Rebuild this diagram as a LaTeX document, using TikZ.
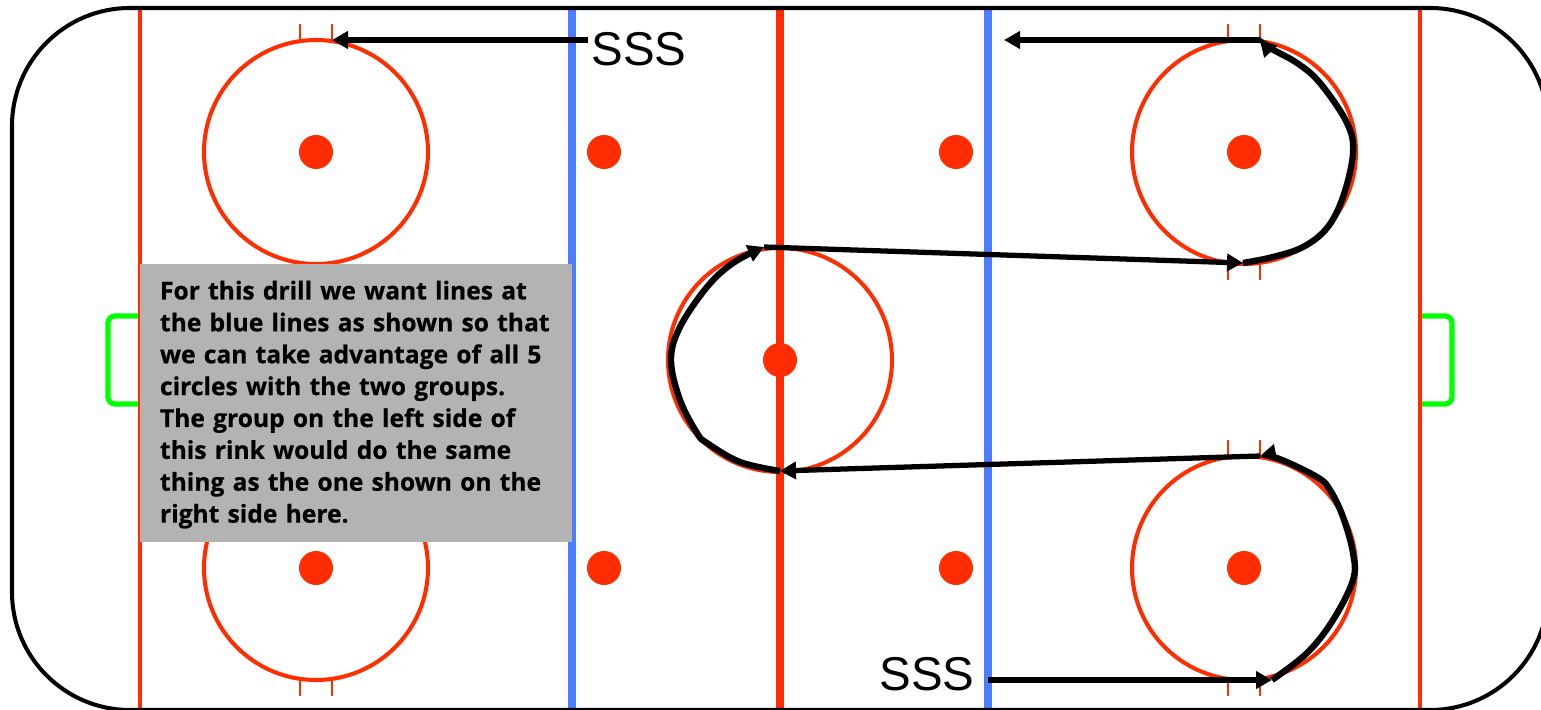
\documentclass[tikz,border=0pt]{standalone}
\usepackage{fontspec}
\setmainfont{Liberation Sans}
\newfontfamily\notefont[BoldFeatures={FakeBold=0.6}]{Open Sans}
\definecolor{rinkred}{RGB}{255,45,0}
\definecolor{rinkblue}{RGB}{74,125,255}
\definecolor{rinkgreen}{RGB}{0,255,0}
\definecolor{notegray}{RGB}{179,179,179}
\usetikzlibrary{arrows.meta,positioning}

\begin{document}
\begin{tikzpicture}[
  x=0.2mm,y=-0.2mm,
  rinkcircle/.style={circle,draw=rinkred,line width=2.3pt,minimum size=4.48cm,inner sep=0pt},
  rinkdot/.style={circle,fill=rinkred,minimum size=0.68cm,inner sep=0pt},
  thinline/.style={rinkred,line width=2.3pt},
  thickline/.style={line width=4.6pt},
  tickline/.style={rinkred,line width=1.2pt},
  goalline/.style={rinkgreen,line width=3pt,rounded corners=4pt},
  drillarr/.style={-{Triangle[length=3.2mm,width=3.4mm]},line width=3pt,black},
  curvearr/.style={drillarr,line width=3.6pt},
  sssnode/.style={font=\fontsize{27pt}{30pt}\selectfont,inner sep=0pt}
]
  \useasboundingbox (0,0) rectangle (1541,710);
  \clip (0,0) rectangle (1541,710);
  \fill[white] (0,0) rectangle (1541,710);
  % Goals
  \draw[goalline] (140,316) -- (108,316) -- (108,404) -- (140,404);
  \draw[goalline] (1420,316) -- (1452,316) -- (1452,404) -- (1420,404);
  % Lines across the rink
  \draw[thinline] (140,8) -- (140,710);
  \draw[thinline] (1420,8) -- (1420,710);
  \draw[thickline,rinkblue] (572,8) -- (572,710);
  \draw[thickline,rinkblue] (988,8) -- (988,710);
  \draw[thickline,rinkred] (780,8) -- (780,710);
  % Boards
  \draw[black,line width=2.3pt,rounded corners=23.6mm] (12,8) rectangle (1548,710);
  % Hash marks
  \foreach \hx in {300,332,1228,1260} {
    \draw[tickline] (\hx,24) -- (\hx,40);
    \draw[tickline] (\hx,264) -- (\hx,280);
    \draw[tickline] (\hx,440) -- (\hx,456);
    \draw[tickline] (\hx,680) -- (\hx,696);
  }
  % Circles
  \node[rinkcircle] (tlcircle) at (316,152) {};
  \node[rinkcircle] (blcircle) at (316,568) {};
  \node[rinkcircle] (trcircle) at (1244,152) {};
  \node[rinkcircle] (brcircle) at (1244,568) {};
  \node[rinkcircle] (midcircle) at (780,360) {};
  % Spots
  \node[rinkdot] (tlspot) at (316,152) {};
  \node[rinkdot] (blspot) at (316,568) {};
  \node[rinkdot] (trspot) at (1244,152) {};
  \node[rinkdot] (brspot) at (1244,568) {};
  \node[rinkdot] (midspot) at (780,360) {};
  \node[rinkdot] (tlzone) at (604,152) {};
  \node[rinkdot] (blzone) at (604,568) {};
  \node[rinkdot] (trzone) at (956,152) {};
  \node[rinkdot] (brzone) at (956,568) {};
  % Note
  \node[fill=notegray,minimum width=8.64cm,minimum height=5.56cm,text width=7.84cm,inner xsep=4mm,
    inner ysep=0pt,align=left,font=\notefont\bfseries\fontsize{14pt}{18.14pt}\selectfont] (note) at (356,403) {
    \rule{0pt}{12.5pt}For this drill we want lines at\\
    the blue lines as shown so that\\
    we can take advantage of all 5\\
    circles with the two groups.\\
    The group on the left side of\\
    this rink would do the same\\
    thing as the one shown on the\\
    right side here.};
  % Player labels
  \node[sssnode,anchor=base west] (ssstop) at (591,66) {SSS};
  \node[sssnode,anchor=base west] (sssbot) at (879,690) {SSS};
  % Drill route
  \coordinate (tlgoal) at (332,40);
  \coordinate (toplead) at (588,40);
  \coordinate (topend) at (1004,40);
  \coordinate (trtop) at (1260,40);
  \coordinate (trbot) at (1243,263);
  \coordinate (midtop) at (764,247);
  \coordinate (midbot) at (780,471);
  \coordinate (brtop) at (1260,456);
  \coordinate (brbot) at (1272,680);
  \coordinate (botlead) at (988,680);
  \draw[drillarr] (toplead) -- (tlgoal);
  \draw[drillarr] (trtop) -- (topend);
  \draw[drillarr] (midtop) -- (trbot);
  \draw[drillarr] (brtop) -- (midbot);
  \draw[drillarr] (botlead) -- (brbot);
  \draw[curvearr] plot[smooth,tension=0.6] coordinates {(trbot) (1273,257) (1303,247) (1327,228)
    (1343,197) (1353,153) (1347,123) (1320,83) (1297,63) (1270,48) (trtop)};
  \draw[curvearr] plot[smooth,tension=0.6] coordinates {(midbot) (740,462) (707,443) (697,433)
    (680,400) (671,360) (680,327) (707,287) (733,263) (midtop)};
  \draw[curvearr] plot[smooth,tension=0.6] coordinates {(brbot) (1307,653) (1333,620) (1353,580)
    (1353,553) (1343,517) (1330,490) (1317,477) (1277,458) (brtop)};
\end{tikzpicture}
\end{document}
